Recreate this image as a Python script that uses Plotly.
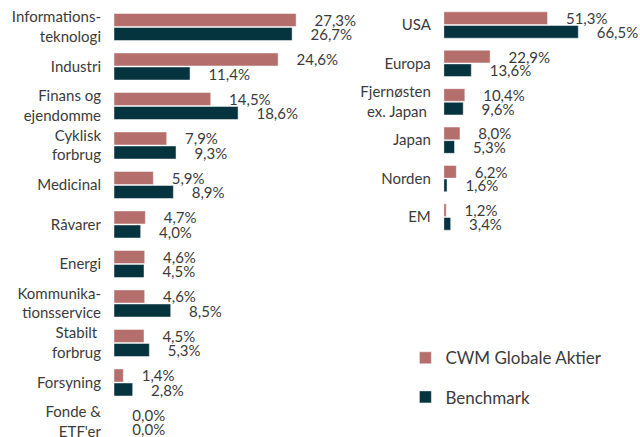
import plotly.graph_objects as go

sectors = ["Informations-<br>teknologi", "Industri", "Finans og<br>ejendomme", "Cyklisk<br>forbrug",
           "Medicinal", "Råvarer", "Energi", "Kommunika-<br>tionsservice", "Stabilt <br>forbrug",
           "Forsyning", "Fonde &<br>ETF'er"]
sector_cwm = [27.3, 24.6, 14.5, 7.9, 5.9, 4.7, 4.6, 4.6, 4.5, 1.4, 0.0]
sector_bench = [26.7, 11.4, 18.6, 9.3, 8.9, 4.0, 4.5, 8.5, 5.3, 2.8, 0.0]

regions = ["USA", "Europa", "Fjernøsten<br>ex. Japan ", "Japan", "Norden", "EM"]
region_cwm = [51.3, 22.9, 10.4, 8.0, 6.2, 1.2]
region_bench = [66.5, 13.6, 9.6, 5.3, 1.6, 3.4]

series_names = ["CWM Globale Aktier", "Benchmark"]
colors = ["#B46E6C", "#06343E"]

FONT = "Lato"
TXT = "#3b3b3b"
PAD = "\u00a0" * 4


def fmt(v):
    return PAD + f"{v:.1f}".replace(".", ",") + "%"


fig = go.Figure()
for name, vals, col, show in [
    (series_names[0], sector_cwm, colors[0], True),
    (series_names[1], sector_bench, colors[1], True),
]:
    fig.add_trace(go.Bar(
        y=sectors, x=vals, orientation="h", name=name,
        marker=dict(color=col, line=dict(color="rgba(255,255,255,0.8)", width=0.6)),
        text=[fmt(v) for v in vals], textposition="outside", cliponaxis=False,
        constraintext="none", textfont=dict(family=FONT, size=15, color=TXT),
        xaxis="x", yaxis="y", showlegend=show, legendgroup=name,
    ))
for name, vals, col in [
    (series_names[0], region_cwm, colors[0]),
    (series_names[1], region_bench, colors[1]),
]:
    fig.add_trace(go.Bar(
        y=regions, x=vals, orientation="h", name=name,
        marker=dict(color=col, line=dict(color="rgba(255,255,255,0.8)", width=0.6)),
        text=[fmt(v) for v in vals], textposition="outside", cliponaxis=False,
        constraintext="none", textfont=dict(family=FONT, size=15, color=TXT),
        xaxis="x2", yaxis="y2", showlegend=False, legendgroup=name,
    ))

fig.update_layout(
    width=640, height=437,
    margin=dict(l=114, r=0, t=7, b=0, autoexpand=False),
    paper_bgcolor="white", plot_bgcolor="white",
    barmode="group", bargap=0.29, bargroupgap=0.07,
    font=dict(family=FONT, size=15, color=TXT),
    xaxis=dict(domain=[0, 0.468], range=[0, 36.9], visible=False),
    yaxis=dict(domain=[0, 1], range=[10.38, -0.506], showgrid=False, showline=False,
               automargin=False, ticks="", ticklabelstandoff=12,
               tickfont=dict(family=FONT, size=15, color=TXT)),
    xaxis2=dict(domain=[0.627, 1], range=[0, 97], visible=False, anchor="y2"),
    yaxis2=dict(domain=[0.467, 1], range=[5.5, -0.469], showgrid=False, showline=False,
                automargin=False, ticks="", ticklabelstandoff=12, anchor="x2",
                tickfont=dict(family=FONT, size=15, color=TXT)),
    legend=dict(x=0.554, y=0.225, xanchor="left", yanchor="top",
                font=dict(family=FONT, size=17, color=TXT),
                tracegroupgap=14, bgcolor="rgba(0,0,0,0)"),
)

fig.write_html("out.html", config={"displayModeBar": False},
               post_script="document.body.style.margin='0';")
